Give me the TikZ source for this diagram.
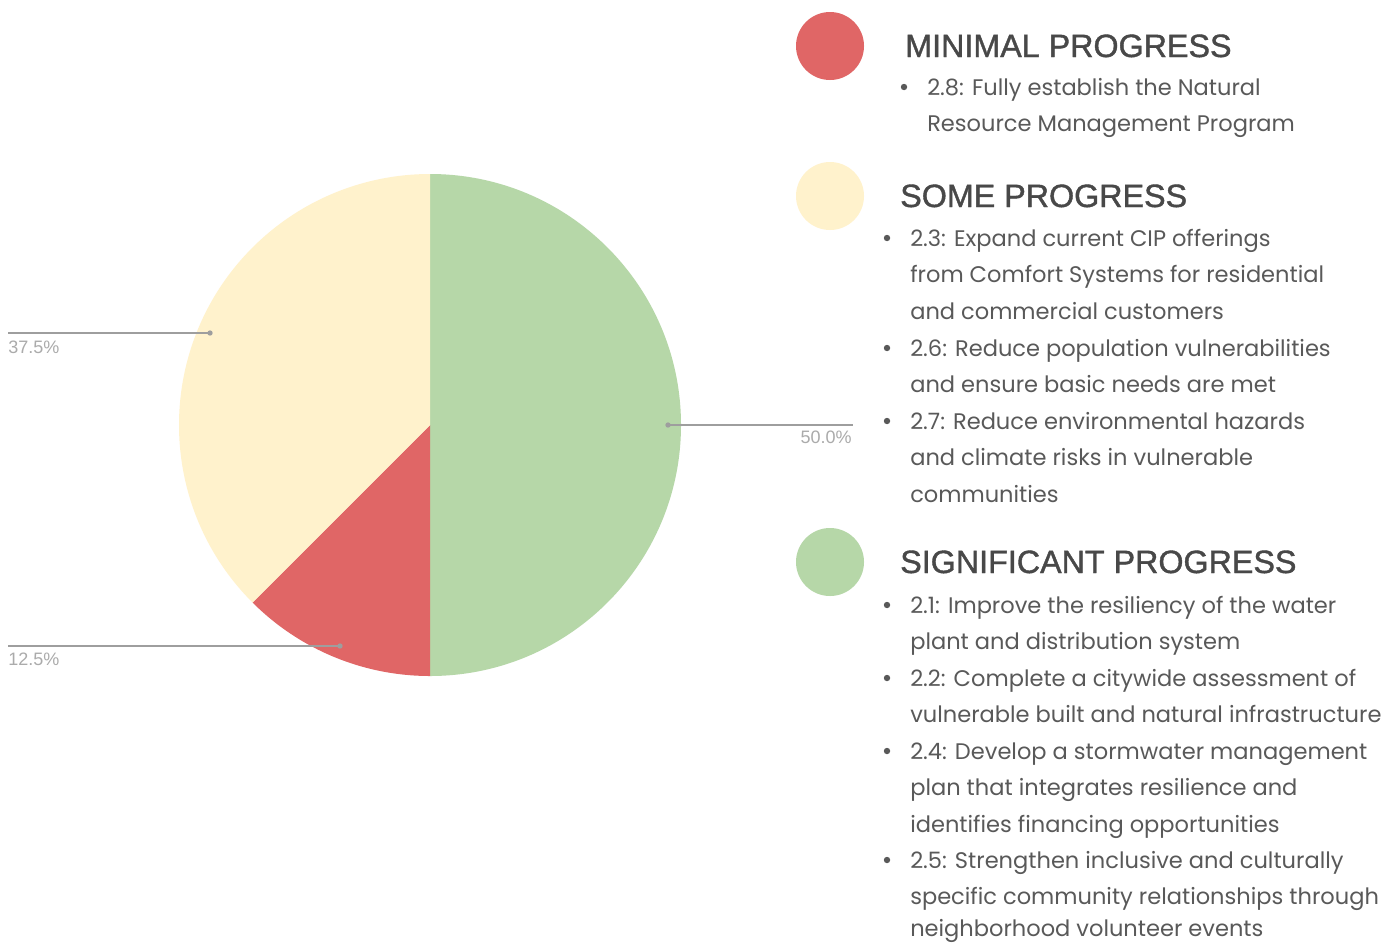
\documentclass[tikz,border=0pt]{standalone}
\usepackage{fontspec}
\setmainfont{Liberation Sans}
\newfontfamily\bodyfont{Poppins}
\newfontfamily\headfont[FakeBold=1.2]{Liberation Sans}
\definecolor{pred}{HTML}{E06666}
\definecolor{pyellow}{HTML}{FFF2CC}
\definecolor{pgreen}{HTML}{B6D7A8}
\definecolor{headc}{HTML}{484848}
\definecolor{bodyc}{HTML}{595959}
\definecolor{leadc}{HTML}{9E9E9E}
\definecolor{labc}{HTML}{ABABAB}
\tikzset{
  heading/.style={anchor=base west, inner sep=0pt, text=headc, font=\headfont\fontsize{24.2}{28}\selectfont},
  bodyline/.style={anchor=base west, inner sep=0pt, text=bodyc, font=\bodyfont\fontsize{16.9}{21}\selectfont},
  bulletdot/.style={circle, fill=bodyc, inner sep=0pt, minimum size=4.8pt},
  legendcirc/.style={circle, inner sep=0pt, minimum size=51pt},
  leader/.style={draw=leadc, line width=1.1pt},
  leaddot/.style={circle, fill=leadc, inner sep=0pt, minimum size=4pt},
  pct/.style={inner sep=0pt, text=labc, font=\fontsize{13.5}{15}\selectfont},
}
\begin{document}
\begin{tikzpicture}[x=0.75pt,y=-0.75pt]
\useasboundingbox[fill=white] (0,0) rectangle (1394,943);
% pie
\coordinate (pc) at (430,425);
\fill[pgreen] (pc) -- ++(-90:251) arc[start angle=-90, end angle=90, radius=251] -- cycle;
\fill[pred] (pc) -- ++(90:251) arc[start angle=90, end angle=135, radius=251] -- cycle;
\fill[pyellow] (pc) -- ++(135:251) arc[start angle=135, end angle=270, radius=251] -- cycle;
% leaders
\node[leaddot] (d1) at (210,333) {};
\coordinate (e1) at (8,333);
\draw[leader] (e1) -- (d1.center);
\node[pct, anchor=base west] (l1) at (8,353) {37.5\%};
\node[leaddot] (d2) at (340,646) {};
\coordinate (e2) at (8,646);
\draw[leader] (e2) -- (d2.center);
\node[pct, anchor=base west] (l2) at (8,665) {12.5\%};
\node[leaddot] (d3) at (668,425) {};
\coordinate (e3) at (853,425);
\draw[leader] (d3.center) -- (e3);
\node[pct, anchor=base east] (l3) at (852,443) {50.0\%};
% legend circles
\node[legendcirc, fill=pred] (c1) at (830,46) {};
\node[legendcirc, fill=pyellow] (c2) at (830,196) {};
\node[legendcirc, fill=pgreen] (c3) at (830,562) {};
% minimal
\node[heading] (h1) at (905,57) {MINIMAL PROGRESS};
\node[bulletdot] (b1) at (904,87) {};
\node[bodyline] (t11) at (927,95) {2.8: Fully establish the Natural};
\node[bodyline] (t12) at (927,131) {Resource Management Program};
% some
\node[heading] (h2) at (900,207) {SOME PROGRESS};
\node[bulletdot] (b2) at (887,238) {};
\node[bodyline] (t21) at (910,246) {2.3: Expand current CIP offerings};
\node[bodyline] (t22) at (910,282.5) {from Comfort Systems for residential};
\node[bodyline] (t23) at (910,319) {and commercial customers};
\node[bulletdot] (b3) at (887,348) {};
\node[bodyline] (t24) at (910,356) {2.6: Reduce population vulnerabilities};
\node[bodyline] (t25) at (910,392) {and ensure basic needs are met};
\node[bulletdot] (b4) at (887,421) {};
\node[bodyline] (t26) at (910,429) {2.7: Reduce environmental hazards};
\node[bodyline] (t27) at (910,465) {and climate risks in vulnerable};
\node[bodyline] (t28) at (910,502) {communities};
% significant
\node[heading] (h3) at (900,573) {SIGNIFICANT PROGRESS};
\node[bulletdot] (b5) at (887,605) {};
\node[bodyline] (t31) at (910,613) {2.1: Improve the resiliency of the water};
\node[bodyline] (t32) at (910,649) {plant and distribution system};
\node[bulletdot] (b6) at (887,678) {};
\node[bodyline] (t33) at (910,686) {2.2: Complete a citywide assessment of};
\node[bodyline] (t34) at (910,722) {vulnerable built and natural infrastructure};
\node[bulletdot] (b7) at (887,751) {};
\node[bodyline] (t35) at (910,759) {2.4: Develop a stormwater management};
\node[bodyline] (t36) at (910,795) {plan that integrates resilience and};
\node[bodyline] (t37) at (910,832) {identifies financing opportunities};
\node[bulletdot] (b8) at (887,860) {};
\node[bodyline] (t38) at (910,868) {2.5: Strengthen inclusive and culturally};
\node[bodyline] (t39) at (910,904) {specific community relationships through};
\node[bodyline] (t40) at (910,936) {neighborhood volunteer events};
\end{tikzpicture}
\end{document}
